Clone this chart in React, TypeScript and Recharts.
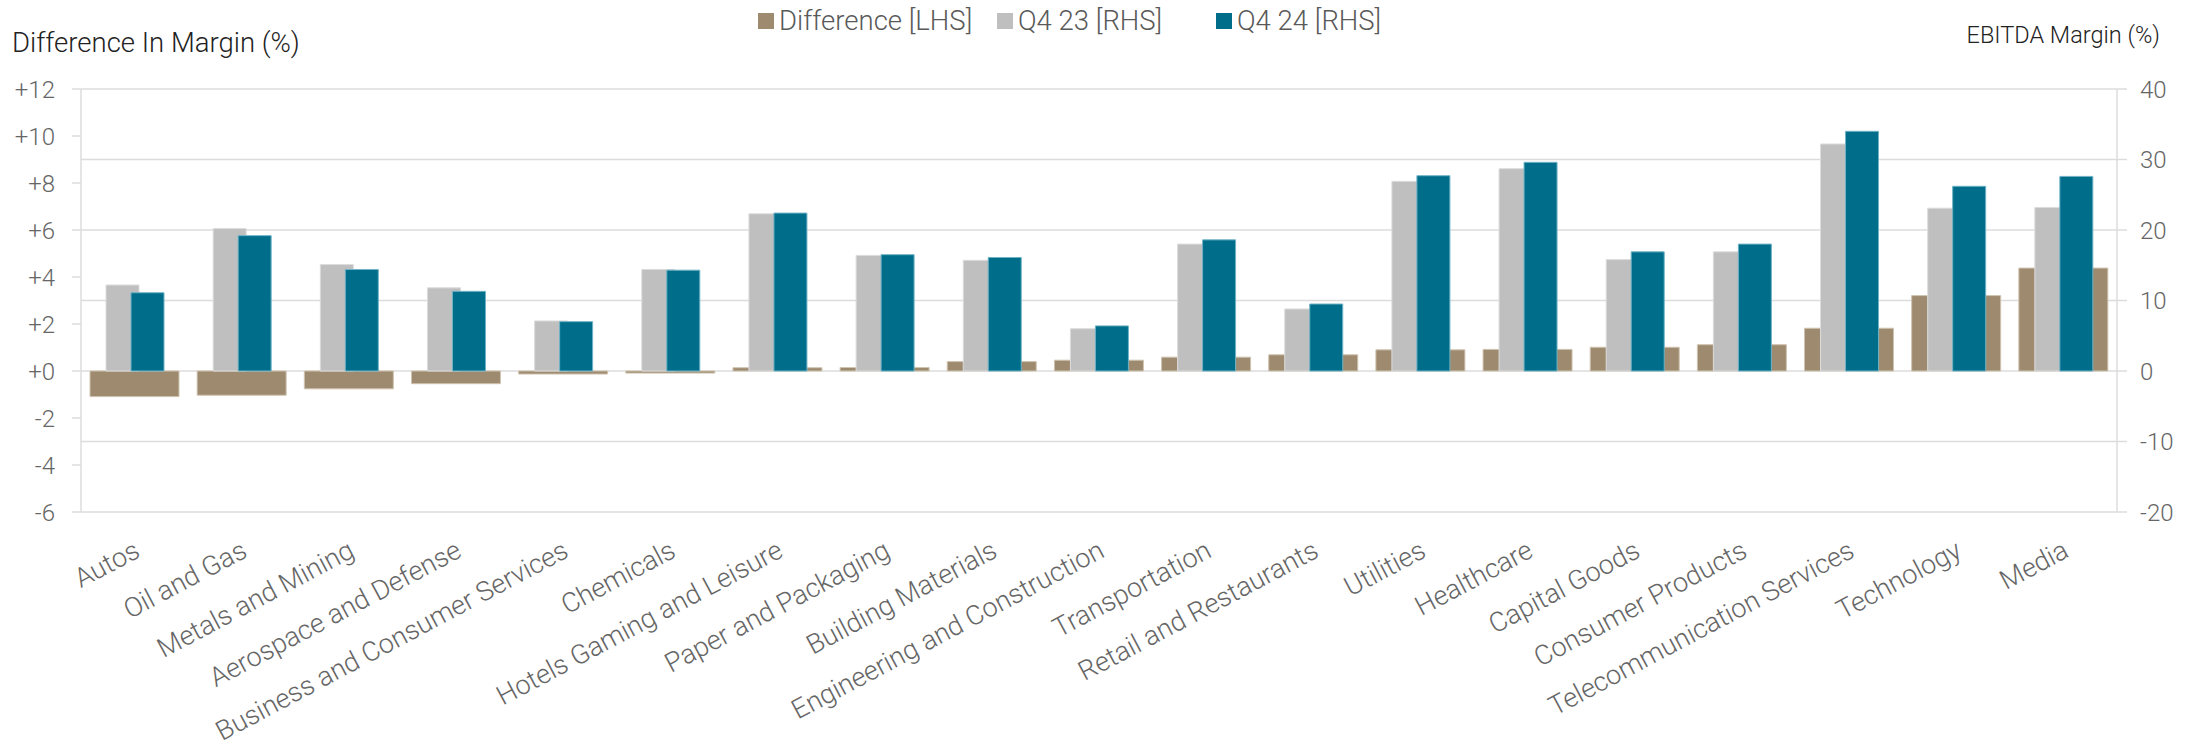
import React from "react";
import {
  BarChart,
  Bar,
  XAxis,
  YAxis,
  CartesianGrid,
} from "recharts";

const categories = [
  "Autos",
  "Oil and Gas",
  "Metals and Mining",
  "Aerospace and Defense",
  "Business and Consumer Services",
  "Chemicals",
  "Hotels Gaming and Leisure",
  "Paper and Packaging",
  "Building Materials",
  "Engineering and Construction",
  "Transportation",
  "Retail and Restaurants",
  "Utilities",
  "Healthcare",
  "Capital Goods",
  "Consumer Products",
  "Telecommunication Services",
  "Technology",
  "Media",
];

const difference = [
  -1.09, -1.03, -0.76, -0.54, -0.13, -0.09, 0.14, 0.15, 0.4, 0.46, 0.59, 0.69,
  0.9, 0.92, 1.01, 1.12, 1.82, 3.21, 4.38,
];
const q423 = [
  12.2, 20.2, 15.1, 11.8, 7.1, 14.4, 22.3, 16.4, 15.7, 6.0, 18.0, 8.8, 26.9,
  28.7, 15.8, 16.9, 32.2, 23.1, 23.2,
];
const q424 = [
  11.1, 19.2, 14.4, 11.3, 7.0, 14.3, 22.4, 16.5, 16.1, 6.4, 18.6, 9.5, 27.7,
  29.6, 16.9, 18.0, 34.0, 26.2, 27.6,
];

const leftTicks = [-6, -4, -2, 0, 2, 4, 6, 8, 10, 12];
const rightTicks = [-20, -10, 0, 10, 20, 30, 40];

const BROWN = "#9e8b6f";
const GREY = "#bfbfbf";
const TEAL = "#006e8a";
const LINE = "#dcdcdc";
const FONT = "Roboto, 'Noto Sans', sans-serif";

const data = categories.map((name, i) => ({
  name,
  diff: difference[i],
  q423: q423[i],
  q424: q424[i],
}));

// legend entries, drawn in a row over the chart
const legendItems = [
  { label: "Difference [LHS]", color: BROWN, left: 758 },
  { label: "Q4 23 [RHS]", color: GREY, left: 997 },
  { label: "Q4 24 [RHS]", color: TEAL, left: 1216 },
];

const CategoryTick = (props: any) => {
  const { x, y, payload } = props;
  const tx = x + 7;
  const ty = y + 44;
  return (
    <text
      x={tx}
      y={ty}
      transform={`rotate(-28, ${tx}, ${ty})`}
      textAnchor="end"
      fontSize={27}
      fontFamily={FONT}
      fontWeight={300}
      fill="#666"
    >
      {payload.value}
    </text>
  );
};

export default function App() {
  return (
    <div
      style={{
        position: "absolute",
        left: 0,
        top: 0,
        width: 2207,
        height: 754,
        background: "#fff",
        fontFamily: FONT,
      }}
    >
      <div
        style={{
          position: "absolute",
          left: 12,
          top: 29,
          fontSize: 27.5,
          lineHeight: "28px",
          fontWeight: 300,
          color: "#222",
          whiteSpace: "nowrap",
        }}
      >
        Difference In Margin (%)
      </div>
      <div
        style={{
          position: "absolute",
          right: 2207 - 2160,
          top: 22,
          fontSize: 23.5,
          lineHeight: "26px",
          fontWeight: 300,
          color: "#222",
          whiteSpace: "nowrap",
        }}
      >
        EBITDA Margin (%)
      </div>
      {legendItems.map((it) => (
        <div
          key={it.label}
          style={{
            position: "absolute",
            left: it.left,
            top: 7,
            display: "flex",
            alignItems: "center",
            fontSize: 27.5,
            lineHeight: "28px",
            fontWeight: 300,
            color: "#595959",
            whiteSpace: "nowrap",
          }}
        >
          <span
            style={{
              display: "inline-block",
              width: 16,
              height: 16,
              background: it.color,
              marginRight: 5,
            }}
          />
          {it.label}
        </div>
      ))}
      <BarChart
        width={2207}
        height={754}
        data={data}
        margin={{ top: 89, right: 0, left: 0, bottom: 0 }}
        barGap={-8}
        style={{ position: "absolute", left: 0, top: 0 }}
      >
        <CartesianGrid
          yAxisId="right"
          vertical={false}
          stroke={LINE}
          strokeWidth={1.5}
        />
        <XAxis
          xAxisId="cat"
          dataKey="name"
          interval={0}
          axisLine={false}
          tickLine={false}
          tickSize={0}
          tickMargin={0}
          height={242}
          tick={<CategoryTick />}
        />
        <XAxis xAxisId="diff" dataKey="name" hide />
        <YAxis
          yAxisId="left"
          orientation="left"
          width={81}
          domain={[-6, 12]}
          ticks={leftTicks}
          interval={0}
          tickFormatter={(v: number) => (v >= 0 ? `+${v}` : `${v}`)}
          axisLine={{ stroke: LINE, strokeWidth: 1.5 }}
          tickLine={{ stroke: LINE, strokeWidth: 1.5 }}
          tickSize={9}
          tickMargin={17}
          tick={{ fontSize: 24, fill: "#666", fontFamily: FONT, fontWeight: 300 }}
        />
        <YAxis
          yAxisId="right"
          orientation="right"
          width={90}
          domain={[-20, 40]}
          ticks={rightTicks}
          interval={0}
          axisLine={{ stroke: LINE, strokeWidth: 1.5 }}
          tickLine={{ stroke: LINE, strokeWidth: 1.5 }}
          tickSize={10}
          tickMargin={13}
          tick={{ fontSize: 24, fill: "#666", fontFamily: FONT, fontWeight: 300 }}
        />
        <Bar
          dataKey="diff"
          name="Difference [LHS]"
          xAxisId="diff"
          yAxisId="left"
          fill={BROWN}
          stroke="#cfc3b1"
          strokeWidth={1}
          barSize={89}
          isAnimationActive={false}
        />
        <Bar
          dataKey="q423"
          name="Q4 23 [RHS]"
          xAxisId="cat"
          yAxisId="right"
          fill={GREY}
          stroke="#dcdcdc"
          strokeWidth={1}
          barSize={33}
          isAnimationActive={false}
        />
        <Bar
          dataKey="q424"
          name="Q4 24 [RHS]"
          xAxisId="cat"
          yAxisId="right"
          fill={TEAL}
          stroke="#6fb3c6"
          strokeWidth={1}
          barSize={33}
          isAnimationActive={false}
        />
      </BarChart>
    </div>
  );
}
